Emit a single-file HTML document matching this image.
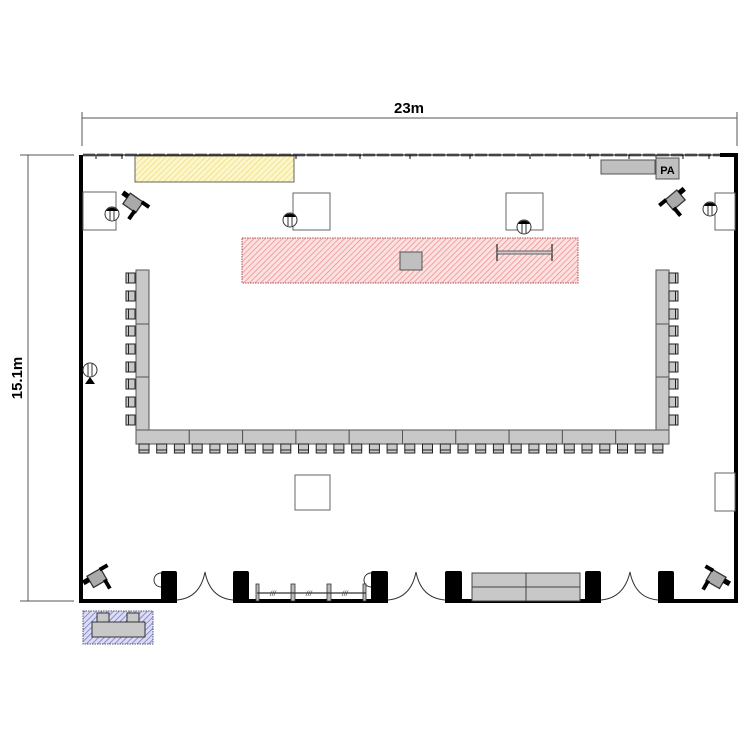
<!DOCTYPE html>
<html><head><meta charset="utf-8"><style>html,body{margin:0;padding:0;background:#fff}svg{display:block}</style></head>
<body>
<svg width="750" height="750" viewBox="0 0 750 750" xmlns="http://www.w3.org/2000/svg">
<defs>
<pattern id="hy" width="4" height="4" patternUnits="userSpaceOnUse" patternTransform="rotate(45)"><rect width="4" height="4" fill="#fdf6c8"/><line x1="0" y1="0" x2="0" y2="4" stroke="#e8d77a" stroke-width="1.2"/></pattern>
<pattern id="hr" width="4" height="4" patternUnits="userSpaceOnUse" patternTransform="rotate(45)"><rect width="4" height="4" fill="#fde0e0"/><line x1="0" y1="0" x2="0" y2="4" stroke="#e88a8a" stroke-width="1.4"/></pattern>
<pattern id="hb" width="4" height="4" patternUnits="userSpaceOnUse" patternTransform="rotate(45)"><rect width="4" height="4" fill="#dcdcf5"/><line x1="0" y1="0" x2="0" y2="4" stroke="#6b6bc0" stroke-width="1.4"/></pattern>
<g id="chD"><rect x="0" y="0" width="10" height="9" fill="#c8c8c8" stroke="#222" stroke-width="1"/><line x1="0" y1="6" x2="10" y2="6" stroke="#222"/></g>
<g id="chL"><rect x="0" y="0" width="9" height="10" fill="#c8c8c8" stroke="#222" stroke-width="1"/><line x1="2.5" y1="0" x2="2.5" y2="10" stroke="#222"/></g>
<g id="chR"><rect x="0" y="0" width="9" height="10" fill="#c8c8c8" stroke="#222" stroke-width="1"/><line x1="6.5" y1="0" x2="6.5" y2="10" stroke="#222"/></g>
<g id="spk"><circle cx="0" cy="0" r="7" fill="#fff" stroke="#333"/><path d="M-6,-3 A7,7 0 0 1 6,-3 Z" fill="#000"/><line x1="-2" y1="-3" x2="-2" y2="6" stroke="#333"/><line x1="2" y1="-3" x2="2" y2="6" stroke="#333"/></g>
<g id="cam"><rect x="-6" y="-5" width="12" height="10" fill="#aaa" stroke="#333"/><rect x="-11" y="-4" width="5" height="4" fill="#000"/><rect x="3" y="4" width="3" height="8" fill="#000"/><rect x="5" y="-6" width="7" height="3" fill="#000"/></g>
</defs>

<g stroke="#555" stroke-width="1" fill="none">
<line x1="82" y1="118" x2="737" y2="118"/><line x1="82" y1="112" x2="82" y2="146"/><line x1="737" y1="112" x2="737" y2="146"/>
<line x1="28" y1="155" x2="28" y2="601"/><line x1="20" y1="155" x2="74" y2="155"/><line x1="20" y1="601" x2="74" y2="601"/>
</g>
<text x="409" y="113" font-family="Liberation Sans, sans-serif" font-size="15" font-weight="bold" text-anchor="middle">23m</text>
<text transform="translate(22,378) rotate(-90)" font-family="Liberation Sans, sans-serif" font-size="15" font-weight="bold" text-anchor="middle">15.1m</text>

<line x1="81" y1="155" x2="81" y2="603" stroke="#000" stroke-width="4"/>
<line x1="736" y1="155" x2="736" y2="603" stroke="#000" stroke-width="4"/>
<line x1="83" y1="155" x2="722" y2="155" stroke="#888" stroke-width="3" stroke-dasharray="12,2"/>
<line x1="83" y1="155" x2="722" y2="155" stroke="#000" stroke-width="1"/>
<line x1="720" y1="155" x2="738" y2="155" stroke="#000" stroke-width="4"/>
<g stroke="#000" stroke-width="1">
<line x1="96" y1="155" x2="96" y2="159"/><line x1="122" y1="155" x2="122" y2="159"/><line x1="240" y1="155" x2="240" y2="159"/><line x1="296" y1="155" x2="296" y2="159"/><line x1="360" y1="155" x2="360" y2="159"/><line x1="410" y1="155" x2="410" y2="159"/><line x1="470" y1="155" x2="470" y2="159"/><line x1="530" y1="155" x2="530" y2="159"/><line x1="590" y1="155" x2="590" y2="159"/><line x1="629" y1="155" x2="629" y2="159"/><line x1="656" y1="155" x2="656" y2="159"/><line x1="683" y1="155" x2="683" y2="159"/><line x1="709" y1="155" x2="709" y2="159"/>
</g>
<g stroke="#000" stroke-width="4">
<line x1="81" y1="601" x2="177" y2="601"/><line x1="233" y1="601" x2="388" y2="601"/><line x1="445" y1="601" x2="601" y2="601"/><line x1="658" y1="601" x2="738" y2="601"/>
</g>
<g fill="#000">
<rect x="161" y="571" width="16" height="32" rx="2"/><rect x="233" y="571" width="16" height="32" rx="2"/><rect x="371" y="571" width="17" height="32" rx="2"/><rect x="445" y="571" width="17" height="32" rx="2"/><rect x="585" y="571" width="16" height="32" rx="2"/><rect x="658" y="571" width="16" height="32" rx="2"/>
</g>
<g fill="none" stroke="#333" stroke-width="1">
<path d="M177,600 Q200,598 205,572 Q210,598 233,600"/>
<path d="M388,600 Q411,598 416,572 Q421,598 445,600"/>
<path d="M601,600 Q624,598 630,572 Q635,598 658,600"/>
<path d="M161,573 A7,7 0 0 0 161,587"/>
<path d="M371,573 A7,7 0 0 0 371,587"/>
</g>
<g fill="#bbb" stroke="#333" stroke-width="0.8">
<rect x="256" y="584" width="3" height="17"/><rect x="291" y="584" width="4" height="17"/><rect x="327" y="584" width="4" height="17"/><rect x="363" y="584" width="3" height="17"/>
</g>
<line x1="257" y1="593" x2="366" y2="593" stroke="#333" stroke-width="1.2"/>
<g font-family="Liberation Sans, sans-serif" font-size="7" font-style="italic" fill="#333"><text x="270" y="596">///</text><text x="306" y="596">///</text><text x="342" y="596">///</text></g>
<g fill="#c8c8c8" stroke="#444" stroke-width="1">
<rect x="472" y="573" width="54" height="14"/><rect x="526" y="573" width="54" height="14"/><rect x="472" y="587" width="54" height="14"/><rect x="526" y="587" width="54" height="14"/>
</g>

<rect x="135" y="156" width="159" height="26" fill="url(#hy)" stroke="#665" stroke-width="1"/>
<rect x="242" y="238" width="336" height="45" fill="url(#hr)" stroke="#a55" stroke-width="1" stroke-dasharray="1.5,1"/>
<rect x="83" y="611" width="70" height="33" fill="url(#hb)" stroke="#557" stroke-width="1" stroke-dasharray="1.5,1"/>
<g fill="#c8c8c8" stroke="#333"><rect x="92" y="622" width="53" height="15"/><rect x="97" y="613" width="12" height="9"/><rect x="127" y="613" width="12" height="9"/></g>

<rect x="400" y="252" width="22" height="18" fill="#c0c0c0" stroke="#555"/>
<g stroke="#333" stroke-width="1.3"><line x1="497" y1="244" x2="497" y2="261"/><line x1="552" y1="244" x2="552" y2="261"/></g>
<rect x="497" y="251" width="55" height="3" fill="#ccc" stroke="#444" stroke-width="0.8"/>

<g fill="#fff" stroke="#666" stroke-width="1">
<rect x="83" y="192" width="33" height="38"/><rect x="293" y="193" width="37" height="37"/><rect x="506" y="193" width="37" height="37"/><rect x="715" y="193" width="20" height="37"/><rect x="295" y="475" width="35" height="35"/><rect x="715" y="473" width="20" height="38"/>
</g>
<rect x="601" y="160" width="54" height="14" fill="#c0c0c0" stroke="#555"/>
<rect x="656" y="158" width="23" height="21" fill="#c0c0c0" stroke="#555"/>
<text x="667.5" y="174" font-family="Liberation Sans, sans-serif" font-size="11" font-weight="bold" text-anchor="middle">PA</text>

<use href="#spk" x="112" y="214"/><use href="#spk" x="290" y="220"/><use href="#spk" x="524" y="227"/><use href="#spk" x="710" y="209"/>
<g transform="translate(90,370) rotate(-90)"><circle r="7" fill="#fff" stroke="#333"/><line x1="-6" y1="-2" x2="6" y2="-2" stroke="#333"/><line x1="-6" y1="2" x2="6" y2="2" stroke="#333"/></g>
<polygon points="90,377 85,384 95,384" fill="#000"/>
<use href="#cam" transform="translate(133,203) rotate(35) scale(1.3)"/>
<use href="#cam" transform="translate(675,200) rotate(140) scale(1.3,-1.3)"/>
<use href="#cam" transform="translate(97,578) rotate(-30) scale(1.3)"/>
<use href="#cam" transform="translate(716,579) rotate(-150) scale(1.3,-1.3)"/>

<g fill="#c8c8c8" stroke="#555" stroke-width="1">
<rect x="136" y="270" width="13" height="54"/><rect x="136" y="324" width="13" height="53"/><rect x="136" y="377" width="13" height="53"/>
<rect x="656" y="270" width="13" height="54"/><rect x="656" y="324" width="13" height="53"/><rect x="656" y="377" width="13" height="53"/>
<rect x="136" y="430" width="53.3" height="14"/><rect x="189.3" y="430" width="53.3" height="14"/><rect x="242.6" y="430" width="53.3" height="14"/><rect x="295.9" y="430" width="53.3" height="14"/><rect x="349.2" y="430" width="53.3" height="14"/><rect x="402.5" y="430" width="53.3" height="14"/><rect x="455.8" y="430" width="53.3" height="14"/><rect x="509.1" y="430" width="53.3" height="14"/><rect x="562.4" y="430" width="53.3" height="14"/><rect x="615.7" y="430" width="53.3" height="14"/>
</g>
<use href="#chL" x="126" y="273"/><use href="#chL" x="126" y="291"/><use href="#chL" x="126" y="309"/><use href="#chL" x="126" y="326"/><use href="#chL" x="126" y="344"/><use href="#chL" x="126" y="362"/><use href="#chL" x="126" y="379"/><use href="#chL" x="126" y="397"/><use href="#chL" x="126" y="415"/>
<use href="#chR" x="669" y="273"/><use href="#chR" x="669" y="291"/><use href="#chR" x="669" y="309"/><use href="#chR" x="669" y="326"/><use href="#chR" x="669" y="344"/><use href="#chR" x="669" y="362"/><use href="#chR" x="669" y="379"/><use href="#chR" x="669" y="397"/><use href="#chR" x="669" y="415"/>
<use href="#chD" x="139" y="444"/><use href="#chD" x="156.7" y="444"/><use href="#chD" x="174.4" y="444"/><use href="#chD" x="192.2" y="444"/><use href="#chD" x="209.9" y="444"/><use href="#chD" x="227.6" y="444"/><use href="#chD" x="245.3" y="444"/><use href="#chD" x="263" y="444"/><use href="#chD" x="280.8" y="444"/><use href="#chD" x="298.5" y="444"/><use href="#chD" x="316.2" y="444"/><use href="#chD" x="333.9" y="444"/><use href="#chD" x="351.7" y="444"/><use href="#chD" x="369.4" y="444"/><use href="#chD" x="387.1" y="444"/><use href="#chD" x="404.8" y="444"/><use href="#chD" x="422.5" y="444"/><use href="#chD" x="440.3" y="444"/><use href="#chD" x="458" y="444"/><use href="#chD" x="475.7" y="444"/><use href="#chD" x="493.4" y="444"/><use href="#chD" x="511.2" y="444"/><use href="#chD" x="528.9" y="444"/><use href="#chD" x="546.6" y="444"/><use href="#chD" x="564.3" y="444"/><use href="#chD" x="582" y="444"/><use href="#chD" x="599.8" y="444"/><use href="#chD" x="617.5" y="444"/><use href="#chD" x="635.2" y="444"/><use href="#chD" x="652.9" y="444"/>
</svg>
</body></html>
